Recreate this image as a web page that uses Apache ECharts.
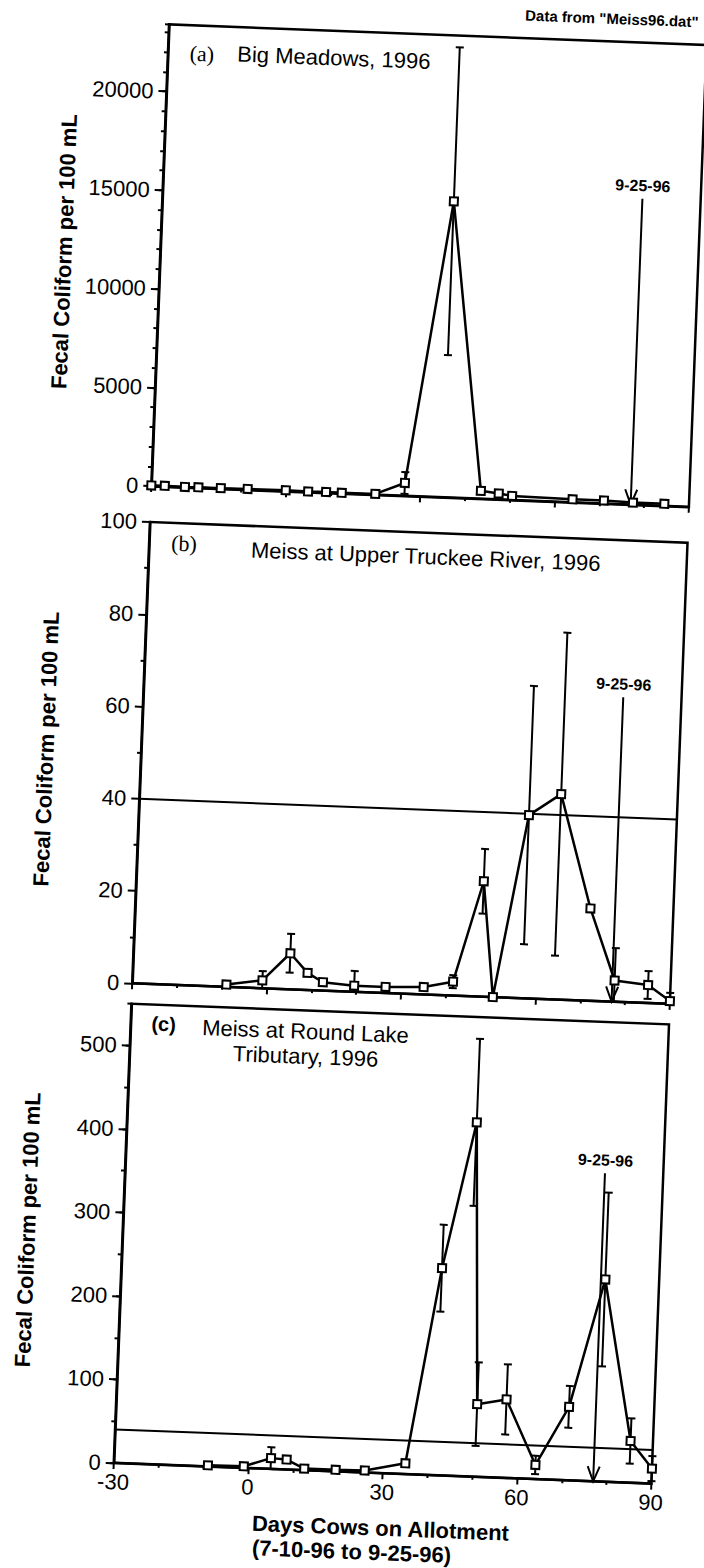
<!DOCTYPE html>
<html><head><meta charset="utf-8">
<script src="https://cdn.jsdelivr.net/npm/echarts@6/dist/echarts.min.js"></script>
<style>
html,body{margin:0;padding:0;background:#fff;width:704px;height:1568px;overflow:hidden}
#chart{position:absolute;left:0;top:0;width:704px;height:1568px;transform:rotate(2.2deg);transform-origin:352px 784px;background:#fff}
</style></head><body><div id="chart"></div>
<script>
// ---- data ----
const xTicks = [-30, 0, 30, 60, 90];
const daysA = [-30,-27,-22.5,-19.5,-14.5,-8.5,0,5,9,12.5,20,26.5,35,43.5,47.5,50.5,64,71,77.5,84.5];
const fcA   = [30,40,20,30,30,40,50,30,40,30,40,650,15000,400,300,200,150,150,100,100];
const errA  = [0,0,0,0,0,0,0,0,0,0,0,550,7800,0,0,0,0,0,0,0];

const daysB = [-9,-1,5,9,12.5,19.5,26.5,35,41.5,47.5,50.5,57,64,71.5,77.5,85,90];
const fcB   = [0.5,1.7,7.8,3.7,1.8,1.3,1.3,1.6,3,25,0,39.7,44.5,20,4.6,3.9,0.6];
const errB  = [0,2,4.2,0,0,3.2,0,0,1.4,7,0,28,35,0,7,3,1.8];

const daysC = [-9,-1,5,8.5,12.5,19.5,26,35,41.5,48,50.5,57,64,71,78,85,90];
const fcC   = [1.5,2,13,12,2,2,2.5,13,248,424,87,94,17,88,242,50,18];
const errC  = [0,0,13,0,0,0,0,0,52,100,50,42,11,25,104,27,15];

const limitValue = 40;
const endDay = 77;
const endLabel = '9-25-96';
const endTop = [15500, 66, 369];

const panelTitles = ['Big Meadows, 1996', 'Meiss at Upper Truckee River, 1996', 'Meiss at Round Lake', 'Tributary, 1996'];
const panelTags = ['(a)', '(b)', '(c)'];
const yName = 'Fecal Coliform per 100 mL';
const xName = 'Days Cows on Allotment';
const xName2 = '(7-10-96 to 9-25-96)';
const sourceNote = 'Data from "Meiss96.dat"';

// ---- chart ----
const FONT = '"Liberation Sans", Arial, sans-serif';
const chart = echarts.init(document.getElementById('chart'), null, {renderer: 'svg'});

const grids = [
  {left: 140, top: 32, width: 538, height: 462},
  {left: 140, top: 530, width: 538, height: 461.5},
  {left: 140, top: 1012, width: 538, height: 459.6}
].map(g => Object.assign(g, {show: true, borderColor: '#000', borderWidth: 2.5, backgroundColor: 'transparent'}));

function xAxis(i, labels) {
  return {
    type: 'value', gridIndex: i, min: -30, max: 90, interval: 30,
    axisLine: {show: true, onZero: false, lineStyle: {color: '#000', width: 2.5}},
    axisTick: {show: true, inside: false, length: 6, lineStyle: {color: '#000', width: 2}},
    minorTick: {show: true, splitNumber: 3, length: 3, lineStyle: {color: '#000', width: 2}},
    splitLine: {show: false},
    axisLabel: {show: labels, color: '#000', fontSize: 22, fontFamily: FONT, margin: 8},
    name: labels ? xName : '', nameLocation: 'middle', nameGap: 44,
    nameTextStyle: {color: '#000', fontSize: 22, fontWeight: 'bold', fontFamily: FONT}
  };
}
function yAxisMain(i, max, interval, minorSplit) {
  return {
    type: 'value', gridIndex: i, position: 'left', min: 0, max: max, interval: interval,
    axisLine: {show: true, onZero: false, lineStyle: {color: '#000', width: 2.5}},
    axisTick: {show: true, length: 8, lineStyle: {color: '#000', width: 2}},
    minorTick: {show: !!minorSplit, splitNumber: minorSplit || 5, length: 4, lineStyle: {color: '#000', width: 2}},
    splitLine: {show: false},
    axisLabel: {color: '#000', fontSize: 22, fontFamily: FONT, margin: 13,
      showMaxLabel: (max % interval === 0), formatter: v => String(v)},
    name: yName, nameLocation: 'middle', nameGap: 84,
    nameTextStyle: {color: '#000', fontSize: 22, fontWeight: 'bold', fontFamily: FONT}
  };
}
function yAxisMinor(i, max, interval) {
  return {
    type: 'value', gridIndex: i, position: 'left', offset: 0, min: 0, max: max, interval: interval,
    axisLine: {show: false, onZero: false}, axisLabel: {show: false}, splitLine: {show: false},
    axisTick: {show: true, length: 4, lineStyle: {color: '#000', width: 2}}
  };
}

function zip(d, v, e) { return d.map((x, k) => [x, v[k], e ? e[k] : 0]); }

function errRender(params, api) {
  const x = api.value(0), y = api.value(1), e = api.value(2);
  if (!e) return null;
  const top = api.coord([x, y + e]);
  const bot = api.coord([x, Math.max(y - e, 0)]);
  const w = 4, st = {stroke: '#000', lineWidth: 2};
  return {type: 'group', children: [
    {type: 'line', shape: {x1: top[0], y1: top[1], x2: bot[0], y2: bot[1]}, style: st},
    {type: 'line', shape: {x1: top[0] - w, y1: top[1], x2: top[0] + w, y2: top[1]}, style: st},
    {type: 'line', shape: {x1: bot[0] - w, y1: bot[1], x2: bot[0] + w, y2: bot[1]}, style: st}
  ]};
}
function arrowRender(params, api) {
  const x = api.value(0), t = api.value(1);
  const p1 = api.coord([x, t]), p0 = api.coord([x, 0]);
  const st = {stroke: '#000', lineWidth: 2, fill: null};
  return {type: 'group', children: [
    {type: 'line', shape: {x1: p1[0], y1: p1[1], x2: p0[0], y2: p0[1]}, style: st},
    {type: 'polyline', shape: {points: [[p0[0] - 6, p0[1] - 15], [p0[0], p0[1]], [p0[0] + 6, p0[1] - 15]]}, style: st},
    {type: 'text', style: {text: endLabel, x: p1[0], y: p1[1] - 5, align: 'center', verticalAlign: 'bottom',
      textAlign: 'center', textVerticalAlign: 'bottom', font: 'bold 16px ' + FONT, fill: '#000'}}
  ]};
}

function panelSeries(gi, yi, d, v, e, withLimit) {
  const line = {
    type: 'line', xAxisIndex: gi, yAxisIndex: yi, data: zip(d, v), symbol: 'rect', symbolSize: 8,
    lineStyle: {color: '#000', width: 2.5}, itemStyle: {color: '#fff', borderColor: '#000', borderWidth: 2},
    z: 5, clip: false, animation: false
  };
  if (withLimit) {
    line.markLine = {silent: true, symbol: ['none', 'none'], label: {show: false}, animation: false,
      lineStyle: {color: '#000', width: 2, type: 'solid'}, data: [{yAxis: limitValue}]};
  }
  return [
    line,
    {type: 'custom', xAxisIndex: gi, yAxisIndex: yi, data: zip(d, v, e), renderItem: errRender, z: 3, animation: false, silent: true},
    {type: 'custom', xAxisIndex: gi, yAxisIndex: yi, data: [[endDay, endTop[gi]]], renderItem: arrowRender, z: 2, animation: false, silent: true}
  ];
}

const txt = (text, x, y, font, align) => ({type: 'text', x: x, y: y,
  style: {text: text, font: font, fill: '#000', align: align || 'center', verticalAlign: 'middle',
          textAlign: align || 'center', textVerticalAlign: 'middle'}});

const option = {
  animation: false,
  backgroundColor: '#fff',
  grid: grids,
  xAxis: [xAxis(0, false), xAxis(1, false), xAxis(2, true)],
  yAxis: [
    yAxisMain(0, 23400, 5000, 0), yAxisMinor(0, 23400, 1000),
    yAxisMain(1, 100, 20, 2),
    yAxisMain(2, 550, 100, 0), yAxisMinor(2, 550, 50)
  ],
  series: [].concat(
    panelSeries(0, 0, daysA, fcA, errA, false),
    panelSeries(1, 2, daysB, fcB, errB, true),
    panelSeries(2, 3, daysC, fcC, errC, true)
  ),
  graphic: [
    txt(sourceNote, 669, 9, 'bold 15px ' + FONT, 'right'),
    txt(panelTags[0], 174, 60, '22px "Liberation Serif", serif'),
    txt(panelTitles[0], 306, 59, '22px ' + FONT),
    txt(panelTags[1], 175, 550, '22px "Liberation Serif", serif'),
    txt(panelTitles[1], 417, 554, '22px ' + FONT),
    txt(panelTags[2], 173, 1031, 'bold 20px ' + FONT),
    txt(panelTitles[2], 315, 1033, '22px ' + FONT),
    txt(panelTitles[3], 316, 1058, '22px ' + FONT),
    txt(xName2, 381, 1551, 'bold 22px ' + FONT)
  ]
};
chart.setOption(option);
</script></body></html>
